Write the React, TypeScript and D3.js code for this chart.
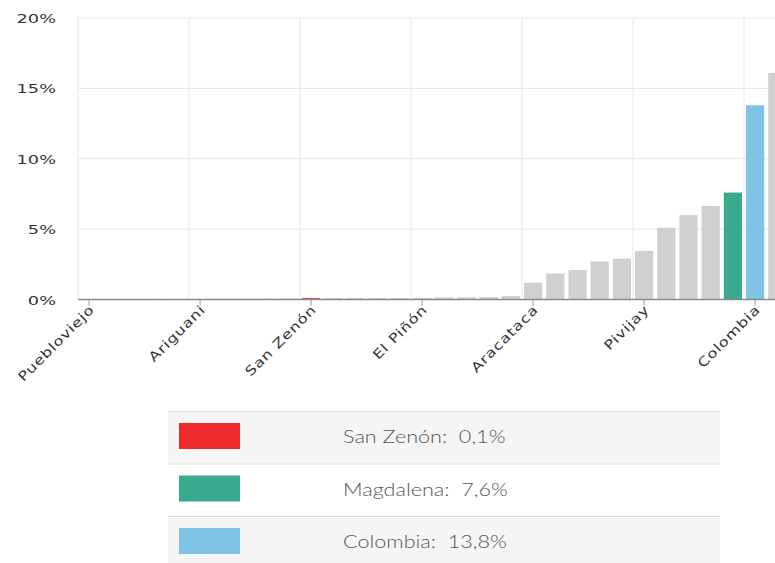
import React, { useEffect, useRef } from "react";
import * as d3 from "d3";

const categories = [
  "Puebloviejo", "Sitionuevo", "Remolino", "Salamina", "Cerro de San Antonio",
  "Ariguani", "Pedraza", "Concordia", "Zapayán", "Chivolo",
  "San Zenón", "Santa Ana", "Tenerife", "Nueva Granada", "Pijiño del Carmen",
  "El Piñón", "Guamal", "Santa Bárbara de Pinto", "San Sebastián de Buenavista", "Sabanas de San Ángel",
  "Aracataca", "Algarrobo", "El Retén", "Plato", "El Banco",
  "Pivijay", "Fundación", "Zona Bananera", "Ciénaga",
  "Magdalena", "Colombia", "Santa Marta",
];
const values = [
  0.02, 0.03, 0.03, 0.04, 0.04,
  0.04, 0.05, 0.05, 0.06, 0.07,
  0.1, 0.1, 0.1, 0.11, 0.11,
  0.12, 0.15, 0.16, 0.18, 0.25,
  1.2, 1.85, 2.1, 2.7, 2.9,
  3.45, 5.1, 6.0, 6.65,
  7.6, 13.8, 16.1,
];
const labeledCategories = ["Puebloviejo", "Ariguani", "San Zenón", "El Piñón", "Aracataca", "Pivijay", "Colombia"];
const yTicks = [0, 5, 10, 15, 20];
const highlight: Record<string, string> = {
  "San Zenón": "#ee2a2a",
  "Magdalena": "#3aaa8e",
  "Colombia": "#7ec2e4",
};
const legendNames = ["San Zenón", "Magdalena", "Colombia"];
const legendValues = ["0,1%", "7,6%", "13,8%"];

export default function App() {
  const ref = useRef<SVGSVGElement>(null);
  useEffect(() => {
    const svg = d3.select(ref.current);
    svg.selectAll("*").remove();
    const left = 78, top = 18, bottom = 299.5;
    const step = 22.2;
    const x = d3.scaleBand<string>().domain(categories).range([left, left + step * categories.length]).paddingInner(0.18).paddingOuter(0.09);
    const y = d3.scaleLinear().domain([0, 20]).range([bottom, top]);
    const plotRight = left + step * categories.length;
    const g = svg.append("g");
    g.selectAll("line.h").data(yTicks).join("line")
      .attr("x1", left).attr("x2", plotRight)
      .attr("y1", (d) => y(d)).attr("y2", (d) => y(d))
      .attr("stroke", "#e6e6e6").attr("stroke-width", 1);
    const vIdx = d3.range(0, categories.length, 5);
    g.selectAll("line.v").data(vIdx).join("line")
      .attr("x1", (i) => left + step * i).attr("x2", (i) => left + step * i)
      .attr("y1", top).attr("y2", bottom)
      .attr("stroke", "#e6e6e6").attr("stroke-width", 1);
    g.selectAll("rect.bar").data(categories).join("rect")
      .attr("x", (c) => x(c)!)
      .attr("width", x.bandwidth())
      .attr("y", (c, i) => y(values[i]))
      .attr("height", (c, i) => bottom - y(values[i]))
      .attr("fill", (c) => highlight[c] || "#d0d0d0");
    g.append("line").attr("x1", left).attr("x2", plotRight).attr("y1", bottom).attr("y2", bottom)
      .attr("stroke", "#8a8a8a").attr("stroke-width", 1.5);
    const lab = g.selectAll("g.xl").data(labeledCategories).join("g")
      .attr("transform", (c) => `translate(${x(c)! + x.bandwidth() / 2},${bottom})`);
    lab.append("line").attr("y1", 0).attr("y2", 6).attr("stroke", "#999").attr("stroke-width", 1);
    lab.append("text")
      .attr("transform", "translate(6,11) rotate(-45) scale(1.25,1)")
      .attr("text-anchor", "end")
      .attr("font-family", "DejaVu Sans")
      .attr("font-size", 13)
      .attr("letter-spacing", 0.6)
      .attr("fill", "#333")
      .text((c) => c);
    g.selectAll("text.yl").data(yTicks).join("text")
      .attr("transform", (d) => `translate(56,${y(d) + 5}) scale(1.42,1)`)
      .attr("text-anchor", "end")
      .attr("font-family", "DejaVu Sans")
      .attr("font-size", 12.5)
      .attr("fill", "#333")
      .text((d) => `${d}%`);
    const lx0 = 168, lx1 = 720, ly0 = 411, rowH = 52.5;
    const rows = svg.append("g").selectAll("g").data(legendNames).join("g")
      .attr("transform", (d, i) => `translate(0,${ly0 + i * rowH})`);
    rows.append("rect").attr("x", lx0).attr("width", lx1 - lx0).attr("y", 0).attr("height", rowH)
      .attr("fill", (d, i) => (i % 2 === 0 ? "#f5f5f5" : "#ffffff"));
    rows.append("line").attr("x1", lx0).attr("x2", lx1).attr("y1", 0.5).attr("y2", 0.5)
      .attr("stroke", "#dcdcdc").attr("stroke-width", 1);
    rows.append("rect").attr("x", 179).attr("y", 12).attr("width", 61).attr("height", 26)
      .attr("fill", (d) => highlight[d]);
    rows.append("text").attr("transform", "translate(343,32) scale(1.2,1)")
      .attr("font-family", "Lato").attr("font-weight", 300)
      .attr("font-size", 18).attr("fill", "#555")
      .attr("xml:space", "preserve")
      .text((d, i) => `${d}:  ${legendValues[i]}`);
  }, []);
  return (
    <svg ref={ref} width={775} height={563}
      style={{ position: "absolute", left: 0, top: 0, background: "#fff", overflow: "hidden" }} />
  );
}
